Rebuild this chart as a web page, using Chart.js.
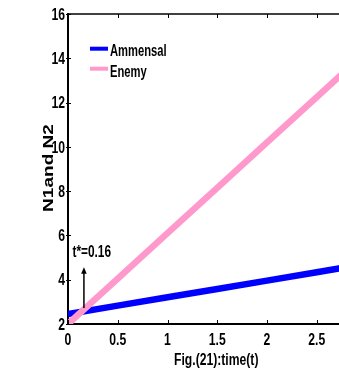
<!DOCTYPE html>
<html><head><meta charset="utf-8">
<script src="https://cdn.jsdelivr.net/npm/chart.js@4/dist/chart.umd.min.js"></script>
<style>
html,body{margin:0;padding:0;width:339px;height:374px;overflow:hidden;background:#fff;}
#wrap{position:absolute;left:0;top:0;width:400px;height:374px;}
</style></head>
<body>
<div id="wrap"><canvas id="c" width="400" height="374"></canvas></div>
<script>
// ---- data ----
const times = [0, 0.5, 1, 1.5, 2, 2.5, 3];
const ammensal = [2.45, 2.83, 3.21, 3.58, 3.96, 4.34, 4.72];
const enemy = [2.0, 4.05, 6.1, 8.15, 10.2, 12.25, 14.3];
const seriesLabels = ['Ammensal', 'Enemy'];
const xTicks = [0, 0.5, 1, 1.5, 2, 2.5, 3];
const yTicks = [2, 4, 6, 8, 10, 12, 14, 16];
const arrowT = 0.16;
const arrowFrom = 2.72;
const arrowTo = 4.56;
const arrowLabel = 't*=0.16';
const arrowLabelPos = [0.045, 5.3];
const xTitle = 'Fig.(21):time(t)';
const yTitle = 'N1and N2';

const FONT = "'Liberation Sans',Arial,Helvetica,sans-serif";
const colors = ['#0000ff', '#ff99cc'];

// draw bold text, squeezed horizontally (the reference figure is anisotropically scaled)
function txt(ctx, s, x, y, size, sx, align) {
  ctx.save();
  ctx.translate(x, y);
  ctx.scale(sx, 1);
  ctx.font = 'bold ' + size + 'px ' + FONT;
  ctx.textAlign = align;
  ctx.textBaseline = 'alphabetic';
  ctx.fillStyle = '#000';
  ctx.fillText(s, 0, 0);
  ctx.restore();
}

const framePlugin = {
  id: 'frame',
  afterDatasetsDraw(chart) {
    const ctx = chart.ctx, a = chart.chartArea;
    const xs = chart.scales.x, ys = chart.scales.y;
    ctx.save();
    ctx.strokeStyle = '#000';
    // top line
    ctx.lineWidth = 1.5;
    ctx.beginPath(); ctx.moveTo(a.left, a.top); ctx.lineTo(a.right, a.top); ctx.stroke();
    // inward ticks + tick labels
    ctx.lineWidth = 1;
    const TS = 16, CAP = 0.716 * TS;
    xs.ticks.forEach(t => {
      const px = xs.getPixelForValue(t.value);
      const rx = Math.round(px) + 0.5;
      ctx.beginPath(); ctx.moveTo(rx, a.bottom); ctx.lineTo(rx, a.bottom - 4); ctx.stroke();
      ctx.beginPath(); ctx.moveTo(rx, a.top); ctx.lineTo(rx, a.top + 4); ctx.stroke();
      txt(ctx, String(t.value), px, a.bottom + 21, TS, 0.76, 'center');
    });
    ys.ticks.forEach(t => {
      const py = ys.getPixelForValue(t.value);
      const ry = Math.round(py) + 0.5;
      ctx.beginPath(); ctx.moveTo(a.left - 2, ry); ctx.lineTo(a.left + 3, ry); ctx.stroke();
      txt(ctx, String(t.value), a.left - 3, py + CAP / 2, TS, 0.76, 'right');
    });
    // axis titles
    txt(ctx, xTitle, (a.left + a.right) / 2 - 1, a.bottom + 41, 16, 0.76, 'center');
    ctx.save();
    ctx.translate(a.left - 15.5, (a.top + a.bottom) / 2 - 1);
    ctx.rotate(-Math.PI / 2);
    txt(ctx, yTitle, 0, 0, 15, 1.27, 'center');
    ctx.restore();
    // arrow annotation
    const ax = xs.getPixelForValue(arrowT);
    const y0 = ys.getPixelForValue(arrowFrom), y1 = ys.getPixelForValue(arrowTo);
    ctx.lineWidth = 1.5;
    ctx.beginPath(); ctx.moveTo(ax, y0); ctx.lineTo(ax, y1 + 5); ctx.stroke();
    ctx.fillStyle = '#000';
    ctx.beginPath(); ctx.moveTo(ax, y1); ctx.lineTo(ax - 2.8, y1 + 6.5); ctx.lineTo(ax + 2.8, y1 + 6.5); ctx.closePath(); ctx.fill();
    txt(ctx, arrowLabel, xs.getPixelForValue(arrowLabelPos[0]), ys.getPixelForValue(arrowLabelPos[1]) + CAP / 2, 16, 0.74, 'left');
    // legend
    const legY = [48.7, 68.7], txtY = [55.7, 77.3];
    chart.data.datasets.forEach((ds, i) => {
      ctx.strokeStyle = ds.borderColor; ctx.lineWidth = 4;
      ctx.beginPath(); ctx.moveTo(90, legY[i]); ctx.lineTo(108, legY[i]); ctx.stroke();
      txt(ctx, ds.label, 110, txtY[i], 16, 0.70, 'left');
    });
    ctx.restore();
  }
};

new Chart(document.getElementById('c'), {
  type: 'line',
  data: {
    datasets: [
      { label: seriesLabels[0], data: times.map((t, i) => ({x: t, y: ammensal[i]})), borderColor: colors[0], backgroundColor: colors[0], borderWidth: 6.5, pointRadius: 0, order: 1, tension: 0 },
      { label: seriesLabels[1], data: times.map((t, i) => ({x: t, y: enemy[i]})), borderColor: colors[1], backgroundColor: colors[1], borderWidth: 6.5, pointRadius: 0, order: 0, tension: 0 }
    ]
  },
  options: {
    responsive: false,
    animation: false,
    devicePixelRatio: 1,
    layout: { padding: { left: 0, top: 14, right: 33.5, bottom: 0 } },
    plugins: { legend: { display: false }, tooltip: { enabled: false } },
    scales: {
      x: {
        type: 'linear', min: 0, max: 3,
        afterFit: s => { s.height = 50; },
        afterBuildTicks: s => { s.ticks = xTicks.map(v => ({value: v})); },
        grid: { display: false, drawTicks: false },
        border: { display: true, color: '#000', width: 2 },
        ticks: { display: false }
      },
      y: {
        type: 'linear', min: 2, max: 16,
        afterFit: s => { s.width = 68; },
        afterBuildTicks: s => { s.ticks = yTicks.map(v => ({value: v})); },
        grid: { display: false, drawTicks: false },
        border: { display: true, color: '#000', width: 2 },
        ticks: { display: false }
      }
    }
  },
  plugins: [framePlugin]
});
</script>
</body></html>
